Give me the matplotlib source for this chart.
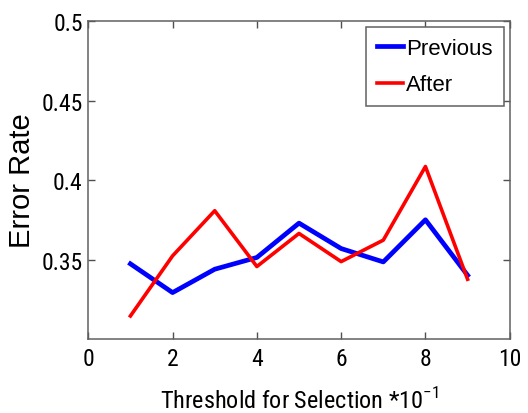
import matplotlib
matplotlib.use("Agg")
import matplotlib.pyplot as plt
from matplotlib import font_manager

# threshold steps (x 10^-1) and error rates for both runs
thresholds = [1, 2, 3, 4, 5, 6, 7, 8, 9]
previous = [0.3473, 0.3292, 0.3439, 0.3513, 0.3729, 0.3569, 0.3485, 0.375, 0.3401]
after = [0.3145, 0.3523, 0.3807, 0.3456, 0.3664, 0.3487, 0.3622, 0.4085, 0.3376]

xticks = [0, 2, 4, 6, 8, 10]
yticks = [0.35, 0.4, 0.45, 0.5]
ytick_labels = ["0.35", "0.4", "0.45", "0.5"]

# narrow sans for ticks and x label, whichever one is around
names = {f.name for f in font_manager.fontManager.ttflist}
narrow = next((n for n in ["Nimbus Sans Narrow", "Liberation Sans Narrow", "Roboto Condensed",
                           "Archivo Narrow"] if n in names), "Liberation Sans")
plt.rcParams["font.family"] = [narrow, "DejaVu Sans"]
plt.rcParams["mathtext.fontset"] = "custom"
plt.rcParams["mathtext.rm"] = narrow

fig = plt.figure(figsize=(5.28, 4.14), dpi=100)
ax = fig.add_axes([0.1672, 0.1787, 0.7982, 0.768])

ax.plot(thresholds, previous, color="#0000ff", lw=3.4, label="Previous")
ax.plot(thresholds, after, color="#ff0000", lw=2.6, label="After")

ax.set_xlim(0, 10)
ax.set_ylim(0.3, 0.5)
ax.set_xticks(xticks)
ax.set_yticks(yticks)
ax.set_yticklabels(ytick_labels)
ax.tick_params(direction="in", top=True, right=True, length=5, width=1,
               color="#505050", labelsize=17)
ax.tick_params(axis="x", pad=6)
ax.tick_params(axis="y", pad=4)
for s in ax.spines.values():
    s.set_color("#606060")
    s.set_linewidth(1.1)

ax.set_xlabel("Threshold for Selection *10$^{-1}$", fontsize=17.5, labelpad=12)
ax.set_ylabel("Error Rate", fontsize=21, labelpad=4, family=["Liberation Sans", "DejaVu Sans"])

leg = ax.legend(loc="upper right", prop={"family": "Liberation Sans", "size": 16},
                fancybox=False, framealpha=1, edgecolor="#606060",
                handlelength=1.15, handletextpad=0.15, borderpad=0.5,
                labelspacing=0.68, borderaxespad=0.27)
leg.get_frame().set_linewidth(1.1)

fig.savefig("out.png", dpi=100)
